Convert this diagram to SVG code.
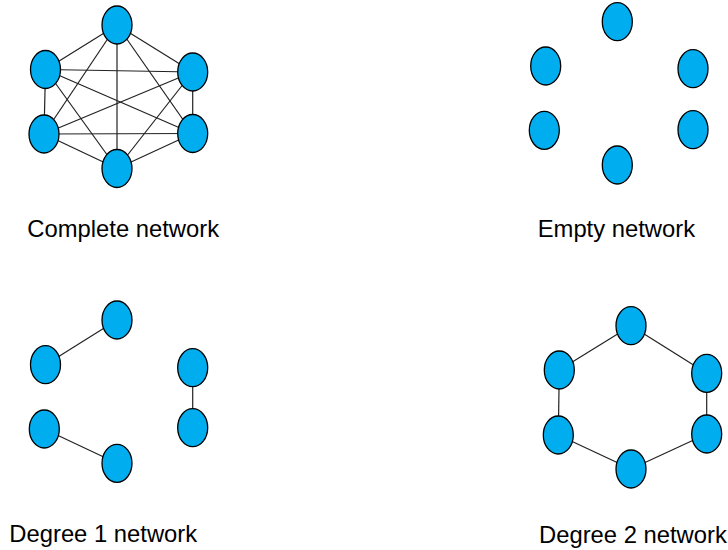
<svg xmlns="http://www.w3.org/2000/svg" width="728" height="550" viewBox="0 0 728 550">
<style>
.n{fill:#00AEEF;stroke:#000;stroke-width:1.3}
.e line{stroke:#222;stroke-width:1.2}
.t{font-family:"Liberation Sans",Arial,sans-serif;font-size:23.8px;fill:#000}
</style>
<rect width="728" height="550" fill="#fff"/>
<g class="e" id="connectors">
<!-- complete -->
<line x1="117" y1="25" x2="45.5" y2="69.5"/>
<line x1="117" y1="25" x2="192.7" y2="72"/>
<line x1="117" y1="25" x2="44" y2="134"/>
<line x1="117" y1="25" x2="192.7" y2="133.5"/>
<line x1="117" y1="25" x2="117" y2="168.5"/>
<line x1="45.5" y1="69.5" x2="192.7" y2="72"/>
<line x1="45.5" y1="69.5" x2="44" y2="134"/>
<line x1="45.5" y1="69.5" x2="192.7" y2="133.5"/>
<line x1="45.5" y1="69.5" x2="117" y2="168.5"/>
<line x1="192.7" y1="72" x2="44" y2="134"/>
<line x1="192.7" y1="72" x2="192.7" y2="133.5"/>
<line x1="192.7" y1="72" x2="117" y2="168.5"/>
<line x1="44" y1="134" x2="192.7" y2="133.5"/>
<line x1="44" y1="134" x2="117" y2="168.5"/>
<line x1="192.7" y1="133.5" x2="117" y2="168.5"/>
<!-- degree 1 -->
<line x1="117" y1="320" x2="45.5" y2="364.7"/>
<line x1="44.3" y1="429" x2="117" y2="463.3"/>
<line x1="192.7" y1="367.7" x2="192.7" y2="427.7"/>
<!-- degree 2 -->
<line x1="631" y1="325.7" x2="559.3" y2="370"/>
<line x1="631" y1="325.7" x2="706.7" y2="373.3"/>
<line x1="559.3" y1="370" x2="558.3" y2="435"/>
<line x1="706.7" y1="373.3" x2="706.7" y2="434"/>
<line x1="558.3" y1="435" x2="631" y2="469"/>
<line x1="706.7" y1="434" x2="631" y2="469"/>
</g>
<g id="complete-network">
<ellipse id="c1" class="n" cx="117" cy="25" rx="15" ry="19"/>
<ellipse id="c2" class="n" cx="45.5" cy="69.5" rx="15" ry="19"/>
<ellipse id="c3" class="n" cx="192.7" cy="72" rx="15" ry="19"/>
<ellipse id="c4" class="n" cx="44" cy="134" rx="15" ry="19"/>
<ellipse id="c5" class="n" cx="192.7" cy="133.5" rx="15" ry="19"/>
<ellipse id="c6" class="n" cx="117" cy="168.5" rx="15" ry="19"/>
<text class="t" x="27.3" y="237.3">Complete network</text>
</g>
<g id="empty-network">
<ellipse id="e1" class="n" cx="617.3" cy="21.7" rx="15" ry="19"/>
<ellipse id="e2" class="n" cx="545.7" cy="66" rx="15" ry="19"/>
<ellipse id="e3" class="n" cx="693" cy="68.7" rx="15" ry="19"/>
<ellipse id="e4" class="n" cx="544.3" cy="130.3" rx="15" ry="19"/>
<ellipse id="e5" class="n" cx="693" cy="129.7" rx="15" ry="19"/>
<ellipse id="e6" class="n" cx="617.3" cy="165" rx="15" ry="19"/>
<text class="t" x="537.7" y="237.3">Empty network</text>
</g>
<g id="degree1-network">
<ellipse id="d1a" class="n" cx="117" cy="320" rx="15" ry="19"/>
<ellipse id="d1b" class="n" cx="45.5" cy="364.7" rx="15" ry="19"/>
<ellipse id="d1c" class="n" cx="192.7" cy="367.7" rx="15" ry="19"/>
<ellipse id="d1d" class="n" cx="44.3" cy="429" rx="15" ry="19"/>
<ellipse id="d1e" class="n" cx="192.7" cy="427.7" rx="15" ry="19"/>
<ellipse id="d1f" class="n" cx="117" cy="463.3" rx="15" ry="19"/>
<text class="t" x="9.3" y="542">Degree 1 network</text>
</g>
<g id="degree2-network">
<ellipse id="d2a" class="n" cx="631" cy="325.7" rx="15" ry="19"/>
<ellipse id="d2b" class="n" cx="559.3" cy="370" rx="15" ry="19"/>
<ellipse id="d2c" class="n" cx="706.7" cy="373.3" rx="15" ry="19"/>
<ellipse id="d2d" class="n" cx="558.3" cy="435" rx="15" ry="19"/>
<ellipse id="d2e" class="n" cx="706.7" cy="434" rx="15" ry="19"/>
<ellipse id="d2f" class="n" cx="631" cy="469" rx="15" ry="19"/>
<text class="t" x="539" y="542.5">Degree 2 network</text>
</g>
</svg>
